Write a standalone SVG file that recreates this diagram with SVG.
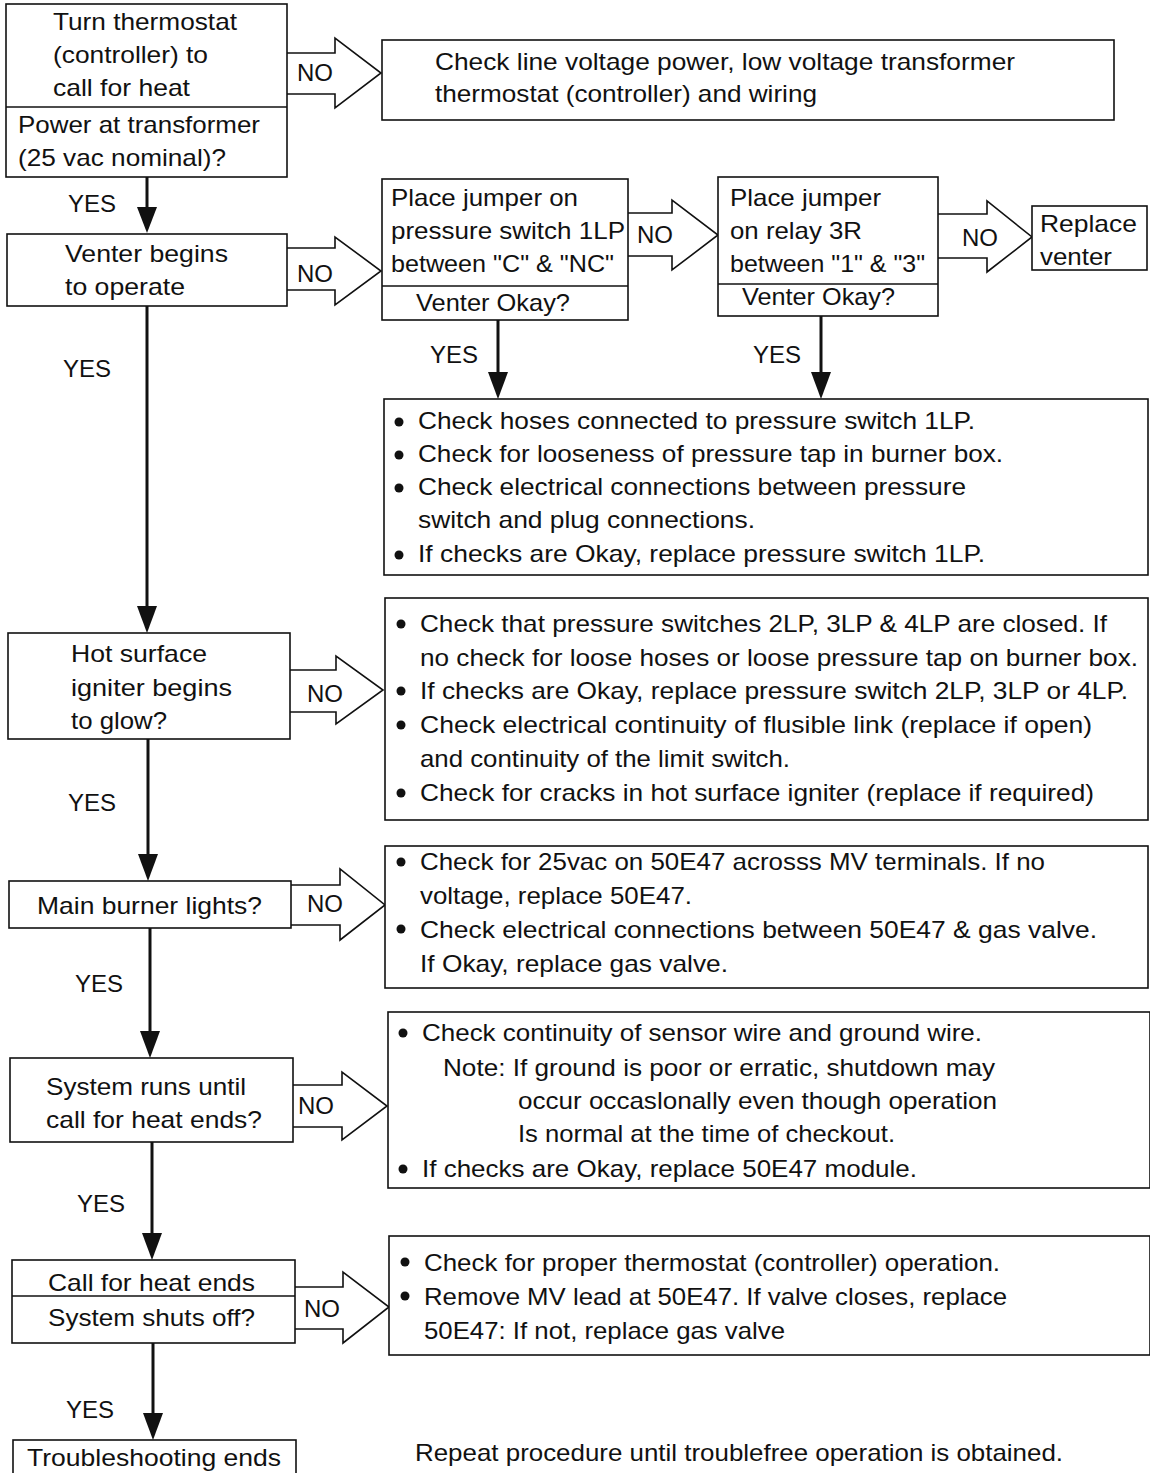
<svg xmlns="http://www.w3.org/2000/svg" width="1150" height="1473" viewBox="0 0 1150 1473">
<defs>
<style>
.box{fill:#fff;stroke:#111;stroke-width:1.6}
.div{stroke:#111;stroke-width:1.6}
.harrow{fill:#fff;stroke:#111;stroke-width:1.6;stroke-linejoin:miter}
.vline{stroke:#111;stroke-width:3;fill:none}
.head{fill:#111}
text{font-family:"Liberation Sans",Arial,Helvetica,sans-serif;font-size:24px;fill:#111}
.bul{fill:#111}
</style>
</defs>
<rect width="1150" height="1473" fill="#fff"/>

<g id="connectors">
<polyline class="harrow" points="287,53 335,53 335,38 381,73 335,108 335,94 287,94"/>
<text x="297" y="81">NO</text>
<polyline class="harrow" points="287,248 335,248 335,237 381,271 335,305 335,290 287,290"/>
<text x="297" y="282">NO</text>
<polyline class="harrow" points="628,213 672,213 672,200 718,235 672,270 672,256 628,256"/>
<text x="637" y="243">NO</text>
<polyline class="harrow" points="938,214 987,214 987,201 1032,237 987,272 987,258 938,258"/>
<text x="962" y="246">NO</text>
<polyline class="harrow" points="290,670 336,670 336,656 383,690 336,724 336,712 290,712"/>
<text x="307" y="702">NO</text>
<polyline class="harrow" points="291,885 340,885 340,869 385,905 340,940 340,925 291,925"/>
<text x="307" y="912">NO</text>
<polyline class="harrow" points="293,1085 342,1085 342,1072 387,1106 342,1140 342,1127 293,1127"/>
<text x="298" y="1114">NO</text>
<polyline class="harrow" points="295,1287 343,1287 343,1272 389,1307 343,1343 343,1329 295,1329"/>
<text x="304" y="1317">NO</text>

<line class="vline" x1="147" y1="177" x2="147" y2="212"/>
<polygon class="head" points="137,207 157,207 147,233"/>
<text x="68" y="212">YES</text>
<line class="vline" x1="147" y1="306" x2="147" y2="612"/>
<polygon class="head" points="137,606 157,606 147,633"/>
<text x="63" y="377">YES</text>
<line class="vline" x1="148" y1="739" x2="148" y2="860"/>
<polygon class="head" points="138,854 158,854 148,881"/>
<text x="68" y="811">YES</text>
<line class="vline" x1="150" y1="928" x2="150" y2="1037"/>
<polygon class="head" points="140,1031 160,1031 150,1058"/>
<text x="75" y="992">YES</text>
<line class="vline" x1="152" y1="1142" x2="152" y2="1239"/>
<polygon class="head" points="142,1233 162,1233 152,1260"/>
<text x="77" y="1212">YES</text>
<line class="vline" x1="153" y1="1343" x2="153" y2="1419"/>
<polygon class="head" points="143,1413 163,1413 153,1440"/>
<text x="66" y="1418">YES</text>
<line class="vline" x1="498" y1="320" x2="498" y2="378"/>
<polygon class="head" points="488,372 508,372 498,399"/>
<text x="430" y="363">YES</text>
<line class="vline" x1="821" y1="316" x2="821" y2="378"/>
<polygon class="head" points="811,372 831,372 821,399"/>
<text x="753" y="363">YES</text>
</g>

<g id="n-thermostat">
<rect class="box" x="6" y="4" width="281" height="173"/>
<line class="div" x1="6" y1="107" x2="287" y2="107"/>
<text x="53" y="30" textLength="184" lengthAdjust="spacingAndGlyphs">Turn thermostat</text>
<text x="53" y="63" textLength="155" lengthAdjust="spacingAndGlyphs">(controller) to</text>
<text x="53" y="96" textLength="137" lengthAdjust="spacingAndGlyphs">call for heat</text>
<text x="18" y="133" textLength="242" lengthAdjust="spacingAndGlyphs">Power at transformer</text>
<text x="18" y="166" textLength="208" lengthAdjust="spacingAndGlyphs">(25 vac nominal)?</text>
</g>

<g id="n-checkline">
<rect class="box" x="382" y="40" width="732" height="80"/>
<text x="435" y="70" textLength="580" lengthAdjust="spacingAndGlyphs">Check line voltage power, low voltage transformer</text>
<text x="435" y="102" textLength="382" lengthAdjust="spacingAndGlyphs">thermostat (controller) and wiring</text>
</g>

<g id="n-venter">
<rect class="box" x="7" y="234" width="280" height="72"/>
<text x="65" y="262" textLength="163" lengthAdjust="spacingAndGlyphs">Venter begins</text>
<text x="65" y="295" textLength="120" lengthAdjust="spacingAndGlyphs">to operate</text>
</g>

<g id="n-jumper1">
<rect class="box" x="382" y="179" width="246" height="141"/>
<line class="div" x1="382" y1="286" x2="628" y2="286"/>
<text x="391" y="206" textLength="187" lengthAdjust="spacingAndGlyphs">Place jumper on</text>
<text x="391" y="239" textLength="234" lengthAdjust="spacingAndGlyphs">pressure switch 1LP</text>
<text x="391" y="272" textLength="223" lengthAdjust="spacingAndGlyphs">between "C" &amp; "NC"</text>
<text x="416" y="311" textLength="154" lengthAdjust="spacingAndGlyphs">Venter Okay?</text>
</g>

<g id="n-jumper2">
<rect class="box" x="718" y="177" width="220" height="139"/>
<line class="div" x1="718" y1="284" x2="938" y2="284"/>
<text x="730" y="206" textLength="151" lengthAdjust="spacingAndGlyphs">Place jumper</text>
<text x="730" y="239" textLength="132" lengthAdjust="spacingAndGlyphs">on relay 3R</text>
<text x="730" y="272" textLength="195" lengthAdjust="spacingAndGlyphs">between "1" &amp; "3"</text>
<text x="742" y="305" textLength="153" lengthAdjust="spacingAndGlyphs">Venter Okay?</text>
</g>

<g id="n-replace">
<rect class="box" x="1032" y="206" width="115" height="64"/>
<text x="1040" y="232" textLength="97" lengthAdjust="spacingAndGlyphs">Replace</text>
<text x="1040" y="265" textLength="72" lengthAdjust="spacingAndGlyphs">venter</text>
</g>

<g id="n-hoses">
<rect class="box" x="384" y="399" width="764" height="176"/>
<circle class="bul" cx="399" cy="422" r="4.5"/>
<circle class="bul" cx="399" cy="455" r="4.5"/>
<circle class="bul" cx="399" cy="488" r="4.5"/>
<circle class="bul" cx="399" cy="555" r="4.5"/>
<text x="418" y="429" textLength="557" lengthAdjust="spacingAndGlyphs">Check hoses connected to pressure switch 1LP.</text>
<text x="418" y="462" textLength="585" lengthAdjust="spacingAndGlyphs">Check for looseness of pressure tap in burner box.</text>
<text x="418" y="495" textLength="548" lengthAdjust="spacingAndGlyphs">Check electrical connections between pressure</text>
<text x="418" y="528" textLength="337" lengthAdjust="spacingAndGlyphs">switch and plug connections.</text>
<text x="418" y="562" textLength="567" lengthAdjust="spacingAndGlyphs">If checks are Okay, replace pressure switch 1LP.</text>
</g>

<g id="n-igniter">
<rect class="box" x="8" y="633" width="282" height="106"/>
<text x="71" y="662" textLength="136" lengthAdjust="spacingAndGlyphs">Hot surface</text>
<text x="71" y="696" textLength="161" lengthAdjust="spacingAndGlyphs">igniter begins</text>
<text x="71" y="729" textLength="96" lengthAdjust="spacingAndGlyphs">to glow?</text>
</g>

<g id="n-pressure">
<rect class="box" x="385" y="598" width="763" height="222"/>
<circle class="bul" cx="401" cy="624" r="4.5"/>
<circle class="bul" cx="401" cy="691" r="4.5"/>
<circle class="bul" cx="401" cy="725" r="4.5"/>
<circle class="bul" cx="401" cy="793" r="4.5"/>
<text x="420" y="632" textLength="687" lengthAdjust="spacingAndGlyphs">Check that pressure switches 2LP, 3LP &amp; 4LP are closed. If</text>
<text x="420" y="666" textLength="718" lengthAdjust="spacingAndGlyphs">no check for loose hoses or loose pressure tap on burner box.</text>
<text x="420" y="699" textLength="708" lengthAdjust="spacingAndGlyphs">If checks are Okay, replace pressure switch 2LP, 3LP or 4LP.</text>
<text x="420" y="733" textLength="672" lengthAdjust="spacingAndGlyphs">Check electrical continuity of flusible link (replace if open)</text>
<text x="420" y="767" textLength="370" lengthAdjust="spacingAndGlyphs">and continuity of the limit switch.</text>
<text x="420" y="801" textLength="674" lengthAdjust="spacingAndGlyphs">Check for cracks in hot surface igniter (replace if required)</text>
</g>

<g id="n-burner">
<rect class="box" x="9" y="881" width="282" height="47"/>
<text x="37" y="914" textLength="225" lengthAdjust="spacingAndGlyphs">Main burner lights?</text>
</g>

<g id="n-25vac">
<rect class="box" x="385" y="846" width="763" height="142"/>
<circle class="bul" cx="401" cy="862" r="4.5"/>
<circle class="bul" cx="401" cy="929" r="4.5"/>
<text x="420" y="870" textLength="625" lengthAdjust="spacingAndGlyphs">Check for 25vac on 50E47 acrosss MV terminals. If no</text>
<text x="420" y="904" textLength="272" lengthAdjust="spacingAndGlyphs">voltage, replace 50E47.</text>
<text x="420" y="938" textLength="677" lengthAdjust="spacingAndGlyphs">Check electrical connections between 50E47 &amp; gas valve.</text>
<text x="420" y="972" textLength="308" lengthAdjust="spacingAndGlyphs">If Okay, replace gas valve.</text>
</g>

<g id="n-runs">
<rect class="box" x="10" y="1058" width="283" height="84"/>
<text x="46" y="1095" textLength="200" lengthAdjust="spacingAndGlyphs">System runs until</text>
<text x="46" y="1128" textLength="216" lengthAdjust="spacingAndGlyphs">call for heat ends?</text>
</g>

<g id="n-sensor">
<rect class="box" x="388" y="1012" width="762" height="176"/>
<circle class="bul" cx="403" cy="1033" r="4.5"/>
<circle class="bul" cx="403" cy="1169" r="4.5"/>
<text x="422" y="1041" textLength="560" lengthAdjust="spacingAndGlyphs">Check continuity of sensor wire and ground wire.</text>
<text x="443" y="1076" textLength="552" lengthAdjust="spacingAndGlyphs">Note: If ground is poor or erratic, shutdown may</text>
<text x="518" y="1109" textLength="479" lengthAdjust="spacingAndGlyphs">occur occaslonally even though operation</text>
<text x="518" y="1142" textLength="377" lengthAdjust="spacingAndGlyphs">Is normal at the time of checkout.</text>
<text x="422" y="1177" textLength="495" lengthAdjust="spacingAndGlyphs">If checks are Okay, replace 50E47 module.</text>
</g>

<g id="n-shutsoff">
<rect class="box" x="12" y="1260" width="283" height="83"/>
<line class="div" x1="12" y1="1296" x2="295" y2="1296"/>
<text x="48" y="1291" textLength="207" lengthAdjust="spacingAndGlyphs">Call for heat ends</text>
<text x="48" y="1326" textLength="207" lengthAdjust="spacingAndGlyphs">System shuts off?</text>
</g>

<g id="n-thermop">
<rect class="box" x="389" y="1236" width="761" height="119"/>
<circle class="bul" cx="405" cy="1262" r="4.5"/>
<circle class="bul" cx="405" cy="1296" r="4.5"/>
<text x="424" y="1271" textLength="576" lengthAdjust="spacingAndGlyphs">Check for proper thermostat (controller) operation.</text>
<text x="424" y="1305" textLength="583" lengthAdjust="spacingAndGlyphs">Remove MV lead at 50E47. If valve closes, replace</text>
<text x="424" y="1339" textLength="361" lengthAdjust="spacingAndGlyphs">50E47: If not, replace gas valve</text>
</g>

<g id="n-end">
<rect class="box" x="13" y="1440" width="283" height="40"/>
<text x="27" y="1466" textLength="254" lengthAdjust="spacingAndGlyphs">Troubleshooting ends</text>
</g>

<text id="footer" x="415" y="1461" textLength="648" lengthAdjust="spacingAndGlyphs">Repeat procedure until troublefree operation is obtained.</text>
</svg>
